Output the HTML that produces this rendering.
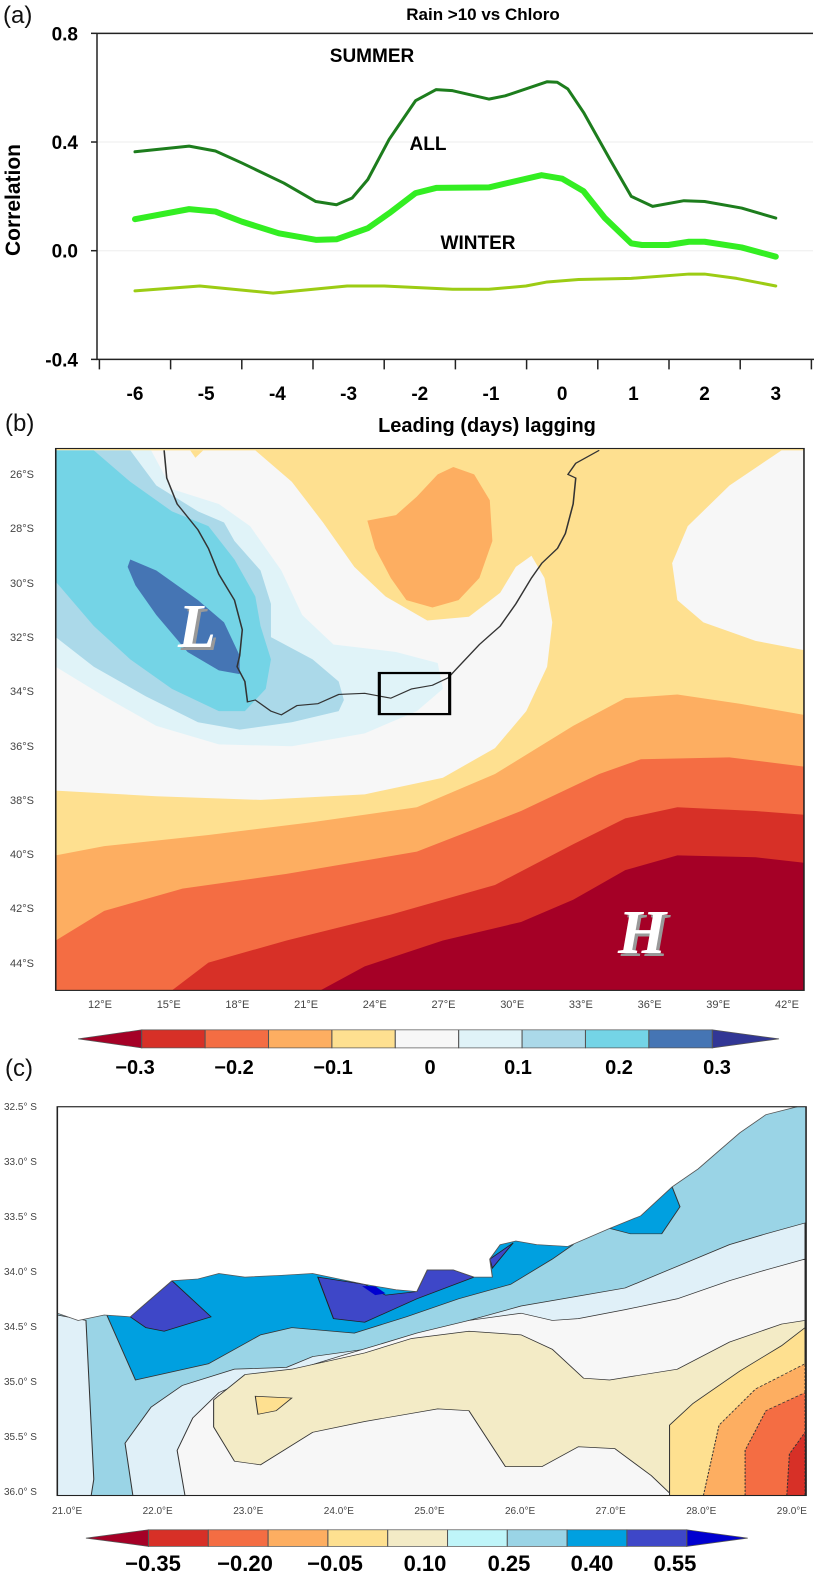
<!DOCTYPE html>
<html><head><meta charset="utf-8">
<style>
body{margin:0;width:817px;height:1576px;background:#fff;position:relative;overflow:hidden;font-family:"Liberation Sans",sans-serif}
.abs{position:absolute}
.pl{position:absolute;font-size:24px;color:#111}
.lat{position:absolute;font-size:11px;color:#444;white-space:nowrap}
.cb{position:absolute;font-size:21px;font-weight:bold;transform:translateX(-50%)}
</style></head><body>
<div class="pl" style="left:3px;top:2px">(a)</div>
<svg class="abs" style="left:0;top:0" width="817" height="440" id="chartA"></svg>

<div class="pl" style="left:5px;top:410px">(b)</div>
<svg class="abs" style="left:0;top:430px" width="817" height="580" viewBox="0 0 1568 1568" preserveAspectRatio="none">
<rect x="107" y="50" width="1436" height="1465" fill="#fee090"/>
<polygon fill="#f7f7f7" points="107,55 490,55 560,140 620,250 680,370 740,450 820,515 900,505 960,440 990,370 1020,340 1045,400 1060,520 1050,640 1010,760 950,860 850,940 700,985 500,1000 300,990 107,975"/>
<polygon fill="#fee090" points="365,55 375,75 390,55"/>
<polygon fill="#f7f7f7" points="1500,55 1400,150 1320,260 1290,360 1300,460 1350,520 1450,570 1543,595 1543,55"/>
<polygon fill="#e0f3f8" points="290,55 330,160 420,200 480,260 540,380 580,500 640,580 760,600 840,630 850,700 800,760 700,820 560,855 420,850 300,800 200,720 107,640 107,55"/>
<polygon fill="#abd9e9" points="250,55 300,150 380,220 430,250 450,300 500,380 520,470 520,560 600,620 650,680 660,730 650,760 560,790 460,810 380,790 280,720 180,640 107,560 107,55"/>
<polygon fill="#74d4e6" points="180,55 250,140 330,220 400,260 450,350 490,450 500,530 520,620 510,700 470,760 420,760 330,700 250,620 180,530 107,410 107,55"/>
<polygon fill="#4575b4" points="250,350 300,380 380,460 430,520 460,610 460,660 420,650 360,600 300,500 260,420 245,370"/>
<polygon fill="#fdae61" points="705,245 760,230 800,180 840,120 870,100 910,120 940,190 945,300 920,400 880,460 830,480 780,460 750,400 720,320"/>
<polygon fill="#fdae61" points="107,1150 200,1125 400,1095 600,1060 800,1020 950,930 1100,800 1200,725 1300,715 1420,740 1543,770 1543,1515 107,1515"/>
<polygon fill="#f46d43" points="107,1380 200,1300 350,1240 550,1200 800,1140 1000,1030 1150,930 1230,890 1400,885 1543,910 1543,1515 107,1515"/>
<polygon fill="#d73027" points="330,1515 400,1440 550,1380 750,1310 950,1230 1100,1120 1200,1050 1300,1020 1450,1030 1543,1040 1543,1515"/>
<polygon fill="#a50026" points="615,1515 700,1450 850,1380 1000,1330 1100,1270 1200,1190 1300,1150 1450,1155 1543,1170 1543,1515"/>
<polyline fill="none" stroke="#333" stroke-width="3" points="315,55 320,130 340,200 380,270 400,320 420,390 450,460 465,540 460,610 455,640 470,680 475,735 490,730 520,760 540,770 570,745 610,740 650,715 700,712 750,725 790,700 830,690 860,670 880,640 920,580 960,530 990,470 1020,400 1040,360 1070,320 1085,280 1100,200 1105,130 1090,120 1105,90 1150,55"/>
<rect x="728" y="657" width="135" height="111" fill="none" stroke="#000" stroke-width="6"/>
<rect x="107" y="50" width="1436" height="1465" fill="none" stroke="#222" stroke-width="3"/>
</svg>
<div class="abs" style="left:178px;top:592px;font:italic bold 62px 'Liberation Serif',serif;color:#fff;text-shadow:3px 3px 0 #999">L</div>
<div class="abs" style="left:618px;top:898px;font:italic bold 62px 'Liberation Serif',serif;color:#fff;text-shadow:3px 3px 0 #999">H</div>

<svg class="abs" style="left:0;top:1010px" width="817" height="566" viewBox="0 0 1568 1568" preserveAspectRatio="none">
<g id="cbB"></g>
<g>
<rect x="110" y="268" width="1437" height="1077" fill="#9ad4e6"/>
<polygon fill="#00a0e0" stroke="#333" stroke-width="2" points="205,845 260,1025 400,980 500,900 560,880 680,895 780,850 880,800 980,760 1060,690 1100,650 1100,600 205,600"/>
<polygon fill="#00a0e0" stroke="#333" stroke-width="2" points="1170,605 1290,490 1305,545 1270,620 1210,620"/>
<polygon fill="#3e47c8" stroke="#222" stroke-width="2" points="250,850 330,750 405,850 315,890 280,880"/>
<polygon fill="#3e47c8" stroke="#222" stroke-width="2" points="610,740 640,855 700,865 800,800 910,740 870,720 820,720 800,780 740,790 700,760"/>
<polygon fill="#3e47c8" stroke="#222" stroke-width="2" points="940,690 985,645 945,715"/>
<polygon fill="#0000d0" points="695,765 720,790 740,785 720,765"/>
<polygon fill="#e0f0f8" stroke="#333" stroke-width="2" points="110,845 165,860 180,1300 175,1345 110,1345"/>
<polygon fill="#e0f0f8" stroke="#333" stroke-width="2" points="255,1345 240,1200 290,1100 350,1040 450,995 550,990 600,960 700,940 800,910 900,860 1000,820 1100,795 1200,770 1300,710 1400,650 1470,620 1545,590 1545,1345"/>
<polygon fill="#f7f7f7" stroke="#333" stroke-width="2" points="355,1345 340,1220 370,1130 420,1060 500,1010 560,1000 650,960 720,930 800,895 900,860 1000,840 1060,860 1110,855 1200,830 1300,800 1400,750 1470,720 1545,690 1545,1345"/>
<polygon fill="#f3ebc6" stroke="#333" stroke-width="2" points="410,1155 410,1080 470,1010 560,995 700,950 790,910 900,890 1000,900 1060,940 1120,1020 1170,1025 1300,995 1400,920 1500,870 1545,860 1545,1345 1290,1345 1250,1290 1180,1215 1110,1210 1040,1265 970,1265 900,1110 840,1105 700,1140 600,1170 500,1260 450,1250"/>
<polygon fill="#fee090" stroke="#333" stroke-width="2" points="490,1070 560,1075 530,1110 495,1120"/>
<polygon fill="#fee090" stroke="#333" stroke-width="2" points="1285,1345 1285,1150 1330,1090 1420,1000 1500,930 1545,880 1545,1345"/>
<polygon fill="#fdae61" stroke="#333" stroke-width="2" stroke-dasharray="6,4" points="1350,1345 1380,1150 1450,1050 1545,980 1545,1345"/>
<polygon fill="#f46d43" stroke="#333" stroke-width="2" stroke-dasharray="6,4" points="1430,1345 1430,1220 1470,1110 1545,1060 1545,1345"/>
<polygon fill="#d73027" stroke="#333" stroke-width="2" stroke-dasharray="6,4" points="1510,1345 1515,1230 1545,1170 1545,1345"/>
<polygon fill="#fff" stroke="#555" stroke-width="2" points="110,268 1530,268 1470,290 1420,340 1380,390 1340,440 1290,490 1230,570 1170,605 1130,630 1090,655 1030,650 990,640 960,650 940,690 945,740 910,740 870,720 820,720 800,780 760,775 700,760 650,745 600,730 540,735 470,740 420,730 380,745 330,750 290,800 250,850 200,845 150,860 110,840"/>
<rect x="110" y="268" width="1437" height="1077" fill="none" stroke="#222" stroke-width="3"/>
</g>
<g id="cbC"></g>
</svg>
<div class="pl" style="left:5px;top:1055px">(c)</div>
<div id="labels"></div>

<script>
// ---- panel (a) data ----
const summerDays=[-6,-5.24,-4.87,-4.5,-3.91,-3.46,-3.17,-2.95,-2.73,-2.43,-2.06,-1.77,-1.54,-1.03,-0.8,-0.21,-0.07,0.08,0.3,0.67,0.97,1.27,1.71,2,2.52,3];
const summerVals=[0.364,0.385,0.367,0.323,0.249,0.181,0.169,0.194,0.262,0.41,0.552,0.593,0.589,0.558,0.57,0.622,0.62,0.595,0.509,0.336,0.2,0.163,0.184,0.181,0.157,0.12];
const allDays=[-6,-5.24,-4.87,-4.5,-3.98,-3.46,-3.17,-2.73,-2.43,-2.06,-1.77,-1.03,-0.29,0,0.3,0.6,0.97,1.12,1.49,1.78,2,2.52,3];
const allVals=[0.116,0.153,0.144,0.107,0.064,0.04,0.042,0.083,0.138,0.212,0.231,0.233,0.278,0.265,0.219,0.12,0.027,0.021,0.021,0.033,0.033,0.012,-0.022];
const winterDays=[-6,-5.09,-4.06,-3.02,-2.5,-1.54,-1.03,-0.51,-0.21,0.23,0.97,1.78,2,2.45,3];
const winterVals=[-0.148,-0.13,-0.156,-0.13,-0.13,-0.142,-0.142,-0.13,-0.115,-0.106,-0.102,-0.086,-0.086,-0.102,-0.13];
const xTicks=[-6,-5,-4,-3,-2,-1,0,1,2,3];
const yTicks=[0.8,0.4,0.0,-0.4];
const yTickLabels=["0.8","0.4","0.0","-0.4"];

const NS='http://www.w3.org/2000/svg';
const X=d=>135+(d+6)*71.2;
const Y=v=>250.7-v*271.7;
const svg=document.getElementById('chartA');
function mk(tag,attrs,parent){const e=document.createElementNS(NS,tag);for(const k in attrs)e.setAttribute(k,attrs[k]);(parent||svg).appendChild(e);return e;}
yTicks.forEach(v=>{if(v>-0.4&&v<0.8){const g=mk('line',{x1:97,x2:813,y1:Y(v),y2:Y(v),stroke:'#eee','stroke-width':1});

}});
const ax=mk('path',{d:`M97,${Y(0.8)}H813M97,${Y(0.8)}V${Y(-0.4)}H814`,fill:'none',stroke:'#222','stroke-width':1.5});


yTicks.forEach((v,i)=>{
 mk('line',{x1:91,x2:97,y1:Y(v),y2:Y(v),stroke:'#222','stroke-width':1.5});
 const t=mk('text',{x:78,y:Y(v)+7,'text-anchor':'end','font-size':19,'font-weight':'bold','font-family':'Liberation Sans, sans-serif'});
 t.textContent=yTickLabels[i];
 
 
});
for(let i=0;i<=xTicks.length;i++){const xx=X(-6.5+i);mk('line',{x1:xx,x2:xx,y1:Y(-0.4),y2:Y(-0.4)+10,stroke:'#222','stroke-width':1.5});}
xTicks.forEach(d=>{const t=mk('text',{x:X(d),y:400,'text-anchor':'middle','font-size':19,'font-weight':'bold','font-family':'Liberation Sans, sans-serif'});t.textContent=String(d);
 
 });
function line(days,vals,color,w,name){const p=mk('polyline',{points:days.map((d,i)=>X(d)+','+Y(vals[i])).join(' '),fill:'none',stroke:color,'stroke-width':w,'stroke-linejoin':'round','stroke-linecap':'round'});
 
 }
line(winterDays,winterVals,'#9ccc14',3,'winter-line');
line(allDays,allVals,'#33ee22',6,'all-line');
line(summerDays,summerVals,'#1d7d1d',3,'summer-line');
function txt(s,x,y,size,name,anchor,extra){const t=mk('text',Object.assign({x:x,y:y,'text-anchor':anchor||'middle','font-size':size,'font-weight':'bold','font-family':'Liberation Sans, sans-serif','xml:space':'preserve'},extra||{}));t.textContent=s;
 
 return t;}
txt('Rain >10  vs Chloro',483,20,17,'chart-title');
txt('SUMMER',372,62,19,'summer-label');
txt('ALL',428,150,19,'all-label');
txt('WINTER',478,249,19,'winter-label');
txt('Leading    (days)    lagging',487,432,20,'x-axis-title');
txt('Correlation',20,200,21,'y-axis-title','middle',{transform:'rotate(-90 20 200)'});

const L=document.getElementById('labels');
function div(s,style,name){const d=document.createElement('div');d.className='lat';d.style.cssText=style;d.textContent=s;
 
 L.appendChild(d);return d;}
const latsB=[26,28,30,32,34,36,38,40,42,44];
latsB.forEach((v,i)=>div(v+'°S','left:10px;top:'+(469+i*54.3)+'px','lat-label-b'));
const lonsB=[12,15,18,21,24,27,30,33,36,39,42];
lonsB.forEach((v,i)=>div(v+'°E','left:'+(102+i*68.7-14)+'px;top:999px','lon-label-b'));
const latsC=['32.5','33.0','33.5','34.0','34.5','35.0','35.5','36.0'];
latsC.forEach((v,i)=>div(v+'° S','left:4px;top:'+(1102+i*55)+'px;font-size:10px','lat-label-c'));
const lonsC=['21.0','22.0','23.0','24.0','25.0','26.0','27.0','28.0','29.0'];
lonsC.forEach((v,i)=>div(v+'°E','left:'+(70+i*90.6-18)+'px;top:1506px;font-size:10px','lon-label-c'));

const cbBColors=['#d73027','#f46d43','#fdae61','#fee090','#f7f7f7','#e0f3f8','#abd9e9','#74d4e6','#4575b4'];
const cbBLabels=['−0.3','−0.2','−0.1','0','0.1','0.2','0.3'];
const cbCColors=['#d73027','#f46d43','#fdae61','#fee090','#f3ebc6','#bff5f9','#9ad4e6','#00a0e0','#3e47c8'];
const cbCLabels=['−0.35','−0.20','−0.05','0.10','0.25','0.40','0.55'];
function colorbar(g,x0,x1,y0,y1,colors,left,right,tipL,tipR){
 const w=(x1-x0)/colors.length;const ym=(y0+y1)/2;
 mk('polygon',{points:`${tipL},${ym} ${x0},${y0} ${x0},${y1}`,fill:left,stroke:'#555','stroke-width':2},g);
 mk('polygon',{points:`${tipR},${ym} ${x1},${y0} ${x1},${y1}`,fill:right,stroke:'#555','stroke-width':2},g);
 colors.forEach((c,i)=>mk('rect',{x:x0+i*w,y:y0,width:w,height:y1-y0,fill:c,stroke:'#555','stroke-width':2},g));
}
colorbar(document.getElementById('cbB'),272,1367,55,105,cbBColors,'#a50026','#313695',150,1495);
colorbar(document.getElementById('cbC'),285,1318,1440,1486,cbCColors,'#a50026','#0000d0',165,1435);
const bPos=[135,234,333,430,518,619,717];
cbBLabels.forEach((s,i)=>{const d=document.createElement('div');d.className='cb';d.style.left=bPos[i]+'px';d.style.top='1057px';d.style.fontSize='20px';d.textContent=s;
 
 L.appendChild(d);});
const cPos=[153,245,335,425,509,592,675];
cbCLabels.forEach((s,i)=>{const d=document.createElement('div');d.className='cb';d.style.left=cPos[i]+'px';d.style.top='1551px';d.style.fontSize='22px';d.textContent=s;
 
 L.appendChild(d);});
</script>
</body></html>
